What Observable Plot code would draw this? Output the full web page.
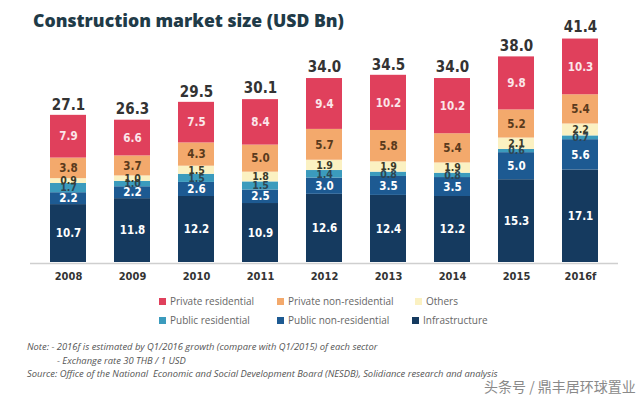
<!DOCTYPE html>
<html>
<head>
<meta charset="utf-8">
<script src="https://cdn.jsdelivr.net/npm/d3@7"></script>
<script src="https://cdn.jsdelivr.net/npm/@observablehq/plot@0.6"></script>
<style>
  html, body { margin: 0; padding: 0; background: #fff; }
  #wrap { position: relative; width: 640px; height: 398px; overflow: hidden; font-family: "Open Sans", "DejaVu Sans", sans-serif; }
  #chart { position: absolute; left: 0; top: 0; }
  #chart svg text { font-stretch: condensed; }
  .title { position: absolute; left: 33px; top: 8px; font-size: 17.6px; font-weight: 800; color: #1f3b48; line-height: 24px; white-space: nowrap; }
  .leg { position: absolute; font-size: 10px; color: #666; line-height: 12px; white-space: nowrap; }
  .leg span.sw { display: inline-block; width: 7px; height: 7px; margin-right: 4px; vertical-align: 0px; }
  .note { position: absolute; left: 27px; font-size: 9.4px; font-style: italic; color: #555; line-height: 11px; white-space: nowrap; }
  .wm { position: absolute; left: 484px; top: 376px; font-family: "Noto Sans CJK SC", sans-serif; font-size: 14px; color: #8a8a8a; white-space: nowrap; }
</style>
</head>
<body>
<div id="wrap">
  <div id="chart"></div>
  <div class="title">Construction market size (USD Bn)</div>
  <div id="legend"></div>
  <div class="note" style="top:341px">Note: - 2016f is estimated by Q1/2016 growth (compare with Q1/2015) of each sector</div>
  <div class="note" style="top:355px; left:57px">- Exchange rate 30 THB / 1 USD</div>
  <div class="note" style="top:368px">Source: Office of the National&nbsp; Economic and Social Development Board (NESDB), Solidiance research and analysis</div>
  <div class="wm">头条号 / 鼎丰居环球置业</div>
</div>
<script>
const years = ["2008", "2009", "2010", "2011", "2012", "2013", "2014", "2015", "2016f"];
const totals = [27.1, 26.3, 29.5, 30.1, 34.0, 34.5, 34.0, 38.0, 41.4];

// stack order: bottom to top
const seriesNames = ["Infrastructure", "Public non-residential", "Public residential", "Others", "Private non-residential", "Private residential"];
const infrastructure = [10.7, 11.8, 12.2, 10.9, 12.6, 12.4, 12.2, 15.3, 17.1];
const publicNonResidential = [2.2, 2.2, 2.6, 2.5, 3.0, 3.5, 3.5, 5.0, 5.6];
const publicResidential = [1.7, 1.0, 1.5, 1.5, 1.4, 0.8, 0.8, 0.6, 0.7];
const others = [0.9, 1.0, 1.5, 1.8, 1.9, 1.9, 1.9, 2.1, 2.2];
const privateNonResidential = [3.8, 3.7, 4.3, 5.0, 5.7, 5.8, 5.4, 5.2, 5.4];
const privateResidential = [7.9, 6.6, 7.5, 8.4, 9.4, 10.2, 10.2, 9.8, 10.3];

const seriesColors = ["#153a5f", "#1d5a92", "#3b9bbd", "#fbf1c2", "#f3a96c", "#e0405c"];
const labelColors = ["#ffffff", "#ffffff", "#2e4652", "#3a3a2a", "#5a3a1c", "#fbe6ea"];
const labelSizes = [11.5, 11.5, 10.5, 10.5, 11.5, 11.5];
const legendOrder = ["Private residential", "Private non-residential", "Others", "Public residential", "Public non-residential", "Infrastructure"];

const seriesValues = [infrastructure, publicNonResidential, publicResidential, others, privateNonResidential, privateResidential];

const data = [];
years.forEach((yr, i) => {
  seriesNames.forEach((s, j) => {
    data.push({year: yr, series: s, value: seriesValues[j][i]});
  });
});
const totalData = years.map((yr, i) => ({year: yr, total: totals[i]}));

const numFont = '"Liberation Sans Narrow", "DejaVu Sans Condensed", "DejaVu Sans", sans-serif';

// stack all data once, then keep one series per mark (filter applied after stacking)
const labelMarks = seriesNames.map((s, j) =>
  Plot.text(data, Plot.filter(d => d.series === s, Plot.stackY({
    x: "year", y: "value", z: "series", order: seriesNames,
    text: d => d.value.toFixed(1),
    fill: labelColors[j],
    fontSize: labelSizes[j], fontWeight: "bold", fontFamily: numFont
  })))
);

const chart = Plot.plot({
  width: 640,
  height: 290,
  marginTop: 38,
  marginBottom: 28,
  marginLeft: 30,
  marginRight: 22,
  style: {background: "transparent"},
  x: {domain: years, paddingInner: 0.44, paddingOuter: 0.28, label: null},
  y: {domain: [0, d3.max(totals)], axis: null},
  color: {domain: seriesNames, range: seriesColors},
  marks: [
    Plot.barY(data, {x: "year", y: "value", fill: "series", z: "series", order: seriesNames}),
    ...labelMarks,
    Plot.text(totalData, {x: "year", y: "total", text: d => d.total.toFixed(1), dy: -11, fontSize: 15, fontWeight: "bold", fill: "#333", fontFamily: numFont}),
    Plot.ruleY([0], {stroke: "#cfcfcf", strokeWidth: 1.5, dy: 1}),
    Plot.axisX({tickSize: 0, tickPadding: 10, fontSize: 11, fontWeight: "bold", fontFamily: numFont, fill: "#333", label: null})
  ]
});
document.getElementById("chart").appendChild(chart);

// legend
const legendPos = [
  {left: 159, top: 295}, {left: 277, top: 295}, {left: 415, top: 295},
  {left: 159, top: 314}, {left: 277, top: 314}, {left: 412, top: 314}
];
const legend = document.getElementById("legend");
legendOrder.forEach((name, i) => {
  const el = document.createElement("div");
  el.className = "leg";
  el.style.left = legendPos[i].left + "px";
  el.style.top = legendPos[i].top + "px";
  const sw = document.createElement("span");
  sw.className = "sw";
  sw.style.background = seriesColors[seriesNames.indexOf(name)];
  el.appendChild(sw);
  el.appendChild(document.createTextNode(name));
  legend.appendChild(el);
});
</script>
</body>
</html>
